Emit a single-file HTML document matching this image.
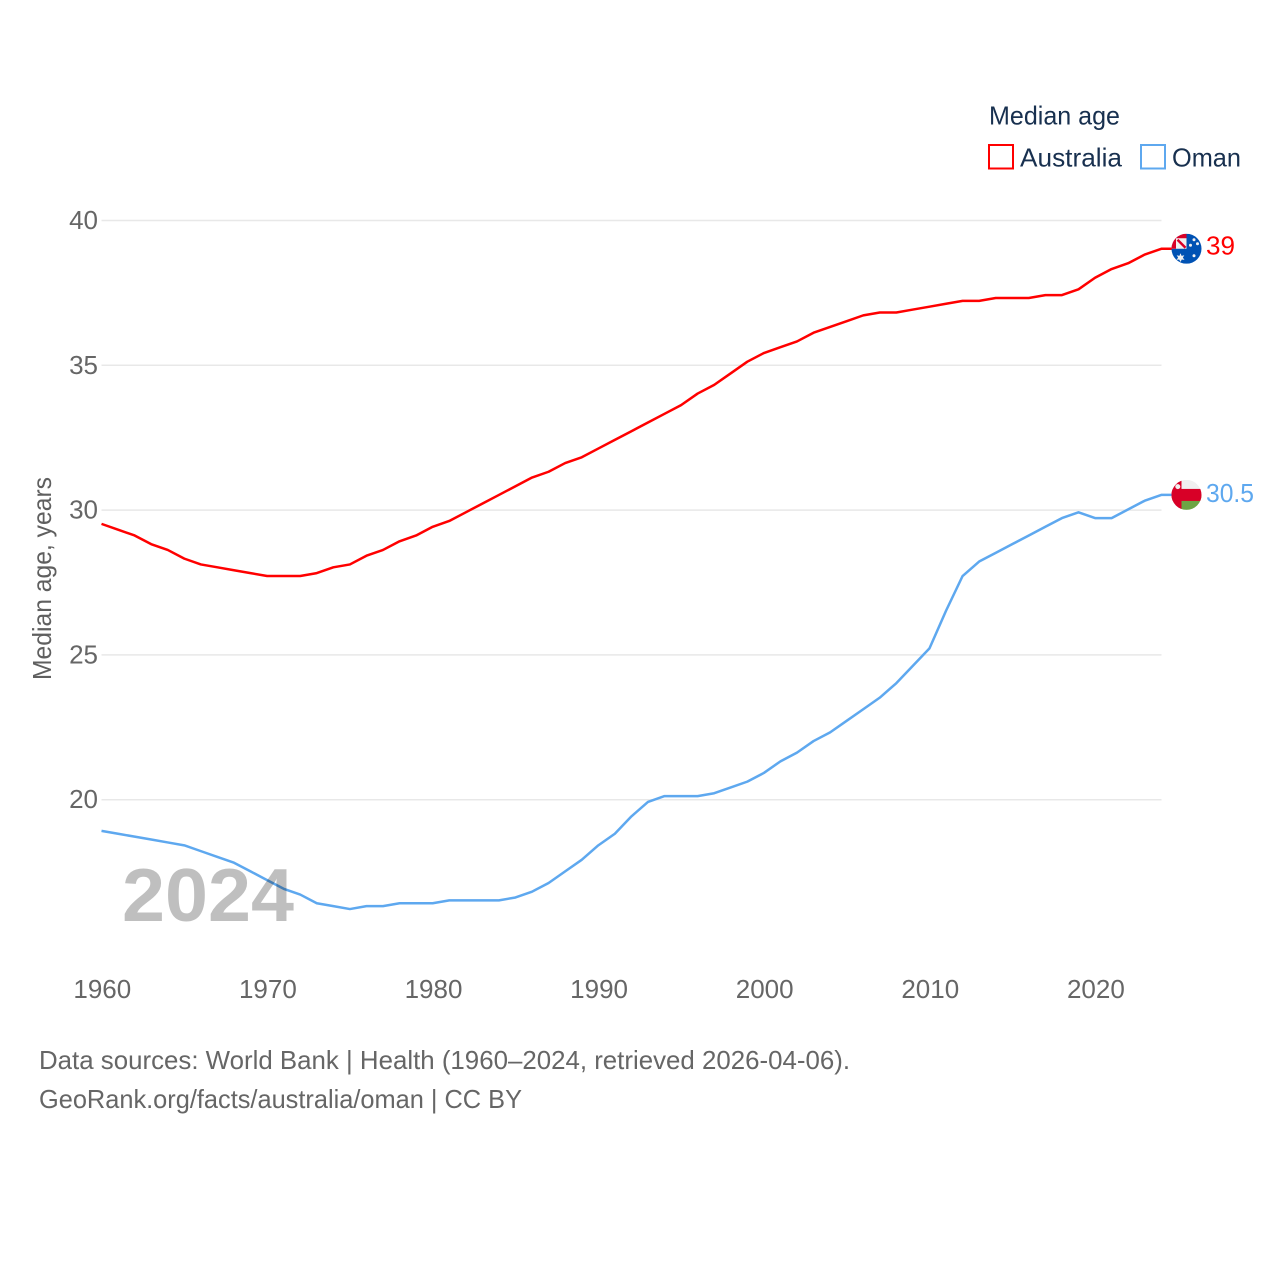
<!DOCTYPE html>
<html lang="en">
<head>
<meta charset="utf-8">
<title>Median age: Australia and Oman</title>
<style>
html,body{margin:0;padding:0;background:#fff;}
svg{display:block;}
text{font-family:"Liberation Sans",sans-serif;}
</style>
</head>
<body>
<svg id="chart" width="1280" height="1280" viewBox="0 0 1280 1280" xmlns="http://www.w3.org/2000/svg">
  <rect x="0" y="0" width="1280" height="1280" fill="#fff"/>
  <g id="grid"></g>
  <g id="yticks"></g>
  <g id="xticks"></g>
  <text transform="translate(51,680) rotate(-90)" font-size="26" fill="#5f5f5f" textLength="203" lengthAdjust="spacingAndGlyphs">Median age, years</text>

  <g id="series" transform="translate(0,-0.7)"></g>

  <text x="122" y="921" font-size="75" font-weight="bold" fill="#000" fill-opacity="0.25" textLength="172" lengthAdjust="spacingAndGlyphs">2024</text>

  <g>
    <text x="989" y="124.5" font-size="26" fill="#18304f" textLength="131" lengthAdjust="spacingAndGlyphs">Median age</text>
    <rect x="989" y="145" width="24" height="23.5" fill="none" stroke="#ff0000" stroke-width="2"/>
    <text x="1020" y="166.5" font-size="26" fill="#18304f" textLength="102" lengthAdjust="spacingAndGlyphs">Australia</text>
    <rect x="1141" y="145" width="24" height="23.5" fill="none" stroke="#5ea8ef" stroke-width="2"/>
    <text x="1172" y="166.5" font-size="26" fill="#18304f" textLength="69" lengthAdjust="spacingAndGlyphs">Oman</text>
  </g>

  <defs>
    <clipPath id="flag-clip"><circle cx="0" cy="0" r="15"/></clipPath>
  </defs>
  <g id="flag-australia" clip-path="url(#flag-clip)">
    <rect x="-15" y="-15" width="30" height="30" fill="#0052b4"/>
    <rect x="-15" y="-15" width="15" height="15" fill="#f0f0f0"/>
    <path d="M-15,-15H0V-10.5H-10.5V0H-15Z" fill="#d80027"/>
    <path d="M-9,-9L-1,-1" stroke="#d80027" stroke-width="2.5"/>
    <path d="M-6,8.5 m0,-4 l1.1,2.6 2.7,-0.6 -1.4,2.4 1.6,2.2 -2.7,-0.3 -1.3,2.5 -1.3,-2.5 -2.7,0.3 1.6,-2.2 -1.4,-2.4 2.7,0.6Z" fill="#f0f0f0"/>
    <circle cx="7.5" cy="-9" r="1.5" fill="#f0f0f0"/>
    <circle cx="4" cy="-3.5" r="1.5" fill="#f0f0f0"/>
    <circle cx="11" cy="-5" r="1.5" fill="#f0f0f0"/>
    <circle cx="7.5" cy="7" r="1.5" fill="#f0f0f0"/>
  </g>
  <g id="flag-oman" clip-path="url(#flag-clip)">
    <rect x="-15" y="-15" width="30" height="30" fill="#f0f0f0"/>
    <rect x="-5" y="0" width="20" height="15" fill="#6da544"/>
    <rect x="-15" y="-15" width="10" height="30" fill="#d80027"/>
    <rect x="-15" y="-6" width="30" height="12" fill="#d80027"/>
    <circle cx="-8.7" cy="-8.3" r="2.5" fill="#f0f0f0"/>
  </g>
  <text id="label-australia" font-size="26" fill="#ff0000" textLength="29" lengthAdjust="spacingAndGlyphs"></text>
  <text id="label-oman" font-size="26" fill="#5ea8ef" textLength="48" lengthAdjust="spacingAndGlyphs"></text>

  <g>
    <text x="39" y="1069" font-size="26" fill="#666666" textLength="811" lengthAdjust="spacingAndGlyphs">Data sources: World Bank | Health (1960–2024, retrieved 2026-04-06).</text>
    <text x="39" y="1108" font-size="26" fill="#666666" textLength="483" lengthAdjust="spacingAndGlyphs">GeoRank.org/facts/australia/oman | CC BY</text>
  </g>
</svg>
<script>
const startYear = 1960;
const xTickYears = [1960, 1970, 1980, 1990, 2000, 2010, 2020];
const yTickValues = [20, 25, 30, 35, 40];
const australiaValues = [
  29.5, 29.3, 29.1, 28.8, 28.6, 28.3, 28.1, 28.0, 27.9, 27.8,
  27.7, 27.7, 27.7, 27.8, 28.0, 28.1, 28.4, 28.6, 28.9, 29.1,
  29.4, 29.6, 29.9, 30.2, 30.5, 30.8, 31.1, 31.3, 31.6, 31.8,
  32.1, 32.4, 32.7, 33.0, 33.3, 33.6, 34.0, 34.3, 34.7, 35.1,
  35.4, 35.6, 35.8, 36.1, 36.3, 36.5, 36.7, 36.8, 36.8, 36.9,
  37.0, 37.1, 37.2, 37.2, 37.3, 37.3, 37.3, 37.4, 37.4, 37.6,
  38.0, 38.3, 38.5, 38.8, 39.0
];
const omanValues = [
  18.9, 18.8, 18.7, 18.6, 18.5, 18.4, 18.2, 18.0, 17.8, 17.5,
  17.2, 16.9, 16.7, 16.4, 16.3, 16.2, 16.3, 16.3, 16.4, 16.4,
  16.4, 16.5, 16.5, 16.5, 16.5, 16.6, 16.8, 17.1, 17.5, 17.9,
  18.4, 18.8, 19.4, 19.9, 20.1, 20.1, 20.1, 20.2, 20.4, 20.6,
  20.9, 21.3, 21.6, 22.0, 22.3, 22.7, 23.1, 23.5, 24.0, 24.6,
  25.2, 26.5, 27.7, 28.2, 28.5, 28.8, 29.1, 29.4, 29.7, 29.9,
  29.7, 29.7, 30.0, 30.3, 30.5
];

const NS = 'http://www.w3.org/2000/svg';
function xScale(year) { return 101.5 + (year - 1960) * (1161.3 - 101.5) / 64; }
function yScale(v) { return 799.7 - (v - 20) * (799.7 - 220.5) / 20; }
function make(tag, attrs) {
  const el = document.createElementNS(NS, tag);
  for (const k in attrs) el.setAttribute(k, attrs[k]);
  return el;
}

const gridGroup = document.getElementById('grid');
const yTickGroup = document.getElementById('yticks');
yTickValues.forEach(function (v) {
  const line = make('line', { x1: 101.5, x2: 1161.5, y1: yScale(v), y2: yScale(v), stroke: '#e8e8e8', 'stroke-width': 1.5 });
  
  
  gridGroup.appendChild(line);
  const label = make('text', { x: 98, y: yScale(v) + 8.5, 'text-anchor': 'end', 'font-size': 26, fill: '#666666' });
  
  
  label.textContent = String(v);
  yTickGroup.appendChild(label);
});

const xTickGroup = document.getElementById('xticks');
xTickYears.forEach(function (yr) {
  const label = make('text', { x: xScale(yr) + 0.8, y: 998, 'text-anchor': 'middle', 'font-size': 26, fill: '#666666' });
  
  
  label.textContent = String(yr);
  xTickGroup.appendChild(label);
});

const flagX = 1186.5;
function drawSeries(values, color, name, flagId, labelId, labelOffset) {
  const last = values[values.length - 1];
  const lastY = yScale(last);
  const pts = values.map(function (v, i) { return xScale(startYear + i).toFixed(2) + ',' + yScale(v).toFixed(2); });
  pts.push('1172,' + lastY.toFixed(2));
  const line = make('polyline', { points: pts.join(' '), fill: 'none', stroke: color, 'stroke-width': 2.5, 'stroke-linejoin': 'round' });
  
  
  document.getElementById('series').appendChild(line);
  document.getElementById(flagId).setAttribute('transform', 'translate(' + flagX + ',' + (lastY - 0.7).toFixed(2) + ')');
  const label = document.getElementById(labelId);
  label.setAttribute('x', 1206);
  label.setAttribute('y', (lastY + labelOffset).toFixed(2));
  label.textContent = String(last);
}
drawSeries(australiaValues, '#ff0000', 'line-australia', 'flag-australia', 'label-australia', 5);
drawSeries(omanValues, '#5ea8ef', 'line-oman', 'flag-oman', 'label-oman', 6.5);
</script>
</body>
</html>
